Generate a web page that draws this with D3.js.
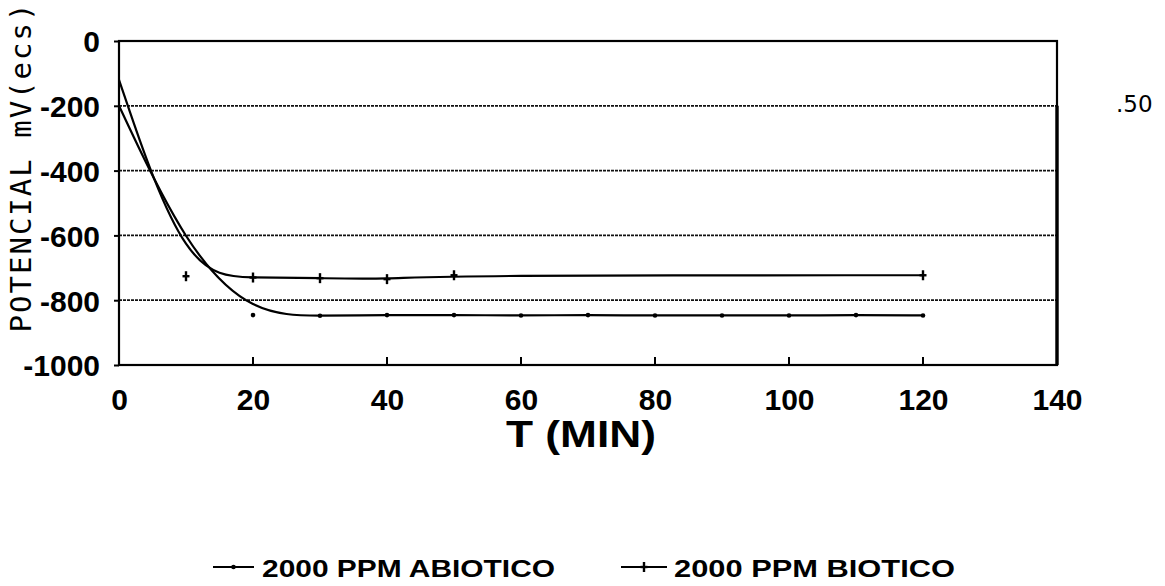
<!DOCTYPE html>
<html>
<head>
<meta charset="utf-8">
<script src="https://cdn.jsdelivr.net/npm/d3@7"></script>
<style>
  body { margin: 0; background: #fff; }
  svg { display: block; }
  .tick-label { font-family: "Liberation Sans", Arial, sans-serif; font-weight: 700; font-size: 30px; fill: #000; }
</style>
</head>
<body>
<div id="chart"></div>
<script>
// Potencial vs tiempo, 2000 PPM abiotico / biotico

const timeAbiotico = [0, 10, 20, 30, 40, 50, 60, 70, 80, 90, 100, 110, 120];
const potAbiotico = [-200, -640, -846, -848, -846, -846, -847, -846, -847, -847, -847, -846, -847];

const timeBiotico = [0, 10, 20, 30, 40, 50, 120];
const potBiotico = [-120, -726, -730, -732, -735, -723, -723];

const xTicks = [0, 20, 40, 60, 80, 100, 120, 140];
const yTicks = [0, -200, -400, -600, -800, -1000];
const gridValues = [-200, -400, -600, -800];

const seriesNames = ["2000 PPM ABIOTICO", "2000 PPM BIOTICO"];

const width = 1165;
const height = 586;
const margin = { left: 119, right: 108, top: 41, bottom: 221 };

const svg = d3.select("#chart")
  .append("svg")
  .attr("width", width)
  .attr("height", height);

const x = d3.scaleLinear().domain([0, 140]).range([margin.left, width - margin.right]);
const y = d3.scaleLinear().domain([-1000, 0]).range([height - margin.bottom, margin.top]);

// dotted gridlines
svg.append("g")
  .selectAll("line")
  .data(gridValues)
  .enter()
  .append("line")
  .attr("x1", x(0))
  .attr("x2", x(140))
  .attr("y1", d => y(d))
  .attr("y2", d => y(d))
  .attr("stroke", "#111")
  .attr("stroke-width", 1.8)
  .attr("stroke-dasharray", "3,1");

// frame
svg.append("rect")
  .attr("x", x(0))
  .attr("y", y(0))
  .attr("width", x(140) - x(0))
  .attr("height", y(-1000) - y(0))
  .attr("fill", "none")
  .attr("stroke", "#000")
  .attr("stroke-width", 2.2);

svg.append("line")
  .attr("x1", x(140)).attr("x2", x(140))
  .attr("y1", y(-200)).attr("y2", y(-1000))
  .attr("stroke", "#000")
  .attr("stroke-width", 3.4);

// x axis: inward ticks, labels below
const xAxis = d3.axisBottom(x)
  .tickValues(xTicks)
  .tickSize(0)
  .tickPadding(24)
  .tickFormat(d3.format("d"));

const gx = svg.append("g")
  .attr("transform", `translate(0,${y(-1000)})`)
  .call(xAxis);
gx.select(".domain").remove();
gx.selectAll("text").attr("class", "tick-label").attr("dy", "0.71em");

svg.append("g")
  .selectAll("line")
  .data(xTicks.filter(d => d > 0 && d < 140))
  .enter()
  .append("line")
  .attr("x1", d => x(d))
  .attr("x2", d => x(d))
  .attr("y1", y(-1000))
  .attr("y2", y(-1000) - 8)
  .attr("stroke", "#000")
  .attr("stroke-width", 2);

// y axis: short outward ticks
const yAxis = d3.axisLeft(y)
  .tickValues(yTicks)
  .tickSize(5)
  .tickPadding(14)
  .tickFormat(d => d === 0 ? "0" : "-" + Math.abs(d));

const gy = svg.append("g")
  .attr("transform", `translate(${x(0)},0)`)
  .call(yAxis);
gy.select(".domain").remove();
gy.selectAll(".tick line").attr("stroke-width", 2);
gy.selectAll("text").attr("class", "tick-label").attr("dy", "0.36em");

// axis titles
svg.append("text")
  .attr("x", 581)
  .attr("y", 447)
  .attr("text-anchor", "middle")
  .attr("textLength", 150)
  .attr("lengthAdjust", "spacingAndGlyphs")
  .style("font-family", "'Liberation Sans', Arial, sans-serif")
  .style("font-weight", "700")
  .style("font-size", "36px")
  .text("T (MIN)");

svg.append("text")
  .attr("transform", "translate(31,167) rotate(-90)")
  .attr("text-anchor", "middle")
  .style("font-family", "'DejaVu Sans Mono', monospace")
  .style("font-size", "29px")
  .style("letter-spacing", "2px")
  .text("POTENCIAL mV(ecs)");

svg.append("text")
  .attr("x", 1116)
  .attr("y", 112)
  .style("font-family", "'DejaVu Sans', sans-serif")
  .style("font-size", "23px")
  .text(".50");

// curves (smoothed through the readings)
const line = d3.line()
  .x(d => x(d[0]))
  .y(d => y(d[1]))
  .curve(d3.curveBasis);

const abiotico = timeAbiotico.map((t, i) => [t, potAbiotico[i]]);
const biotico = timeBiotico.map((t, i) => [t, potBiotico[i]]);

svg.append("path")
  .datum(abiotico)
  .attr("d", line)
  .attr("fill", "none")
  .attr("stroke", "#000")
  .attr("stroke-width", 2.2);

svg.append("path")
  .datum(biotico)
  .attr("d", line)
  .attr("fill", "none")
  .attr("stroke", "#000")
  .attr("stroke-width", 2.2);

// markers
function drawDot(g, cx, cy) {
  g.append("circle").attr("cx", cx).attr("cy", cy).attr("r", 2.3).attr("fill", "#000");
}
function drawPlus(g, cx, cy) {
  g.append("line").attr("x1", cx).attr("x2", cx).attr("y1", cy - 5).attr("y2", cy + 5)
    .attr("stroke", "#000").attr("stroke-width", 2.4);
  g.append("line").attr("x1", cx - 3.5).attr("x2", cx + 3.5).attr("y1", cy).attr("y2", cy)
    .attr("stroke", "#000").attr("stroke-width", 2.4);
}

const markers = svg.append("g");
// the abiotico marker at 10 min is hidden under the curve in the original
abiotico.filter(d => d[0] >= 20).forEach(d => drawDot(markers, x(d[0]), y(d[1])));
biotico.filter(d => d[0] > 0).forEach(d => drawPlus(markers, x(d[0]), y(d[1])));

// legend
const legend = svg.append("g");
const legendItems = [
  { name: seriesNames[0], x0: 213, x1: 254, tx: 262, len: 293, marker: drawDot },
  { name: seriesNames[1], x0: 621, x1: 667, tx: 674, len: 281, marker: drawPlus }
];
legendItems.forEach(item => {
  legend.append("line")
    .attr("x1", item.x0).attr("x2", item.x1)
    .attr("y1", 567).attr("y2", 567)
    .attr("stroke", "#000").attr("stroke-width", 2);
  item.marker(legend, (item.x0 + item.x1) / 2, 567);
  legend.append("text")
    .attr("x", item.tx)
    .attr("y", 577)
    .attr("textLength", item.len)
    .attr("lengthAdjust", "spacingAndGlyphs")
    .style("font-family", "'Liberation Sans', Arial, sans-serif")
    .style("font-weight", "700")
    .style("font-size", "24px")
    .text(item.name);
});
</script>
</body>
</html>
